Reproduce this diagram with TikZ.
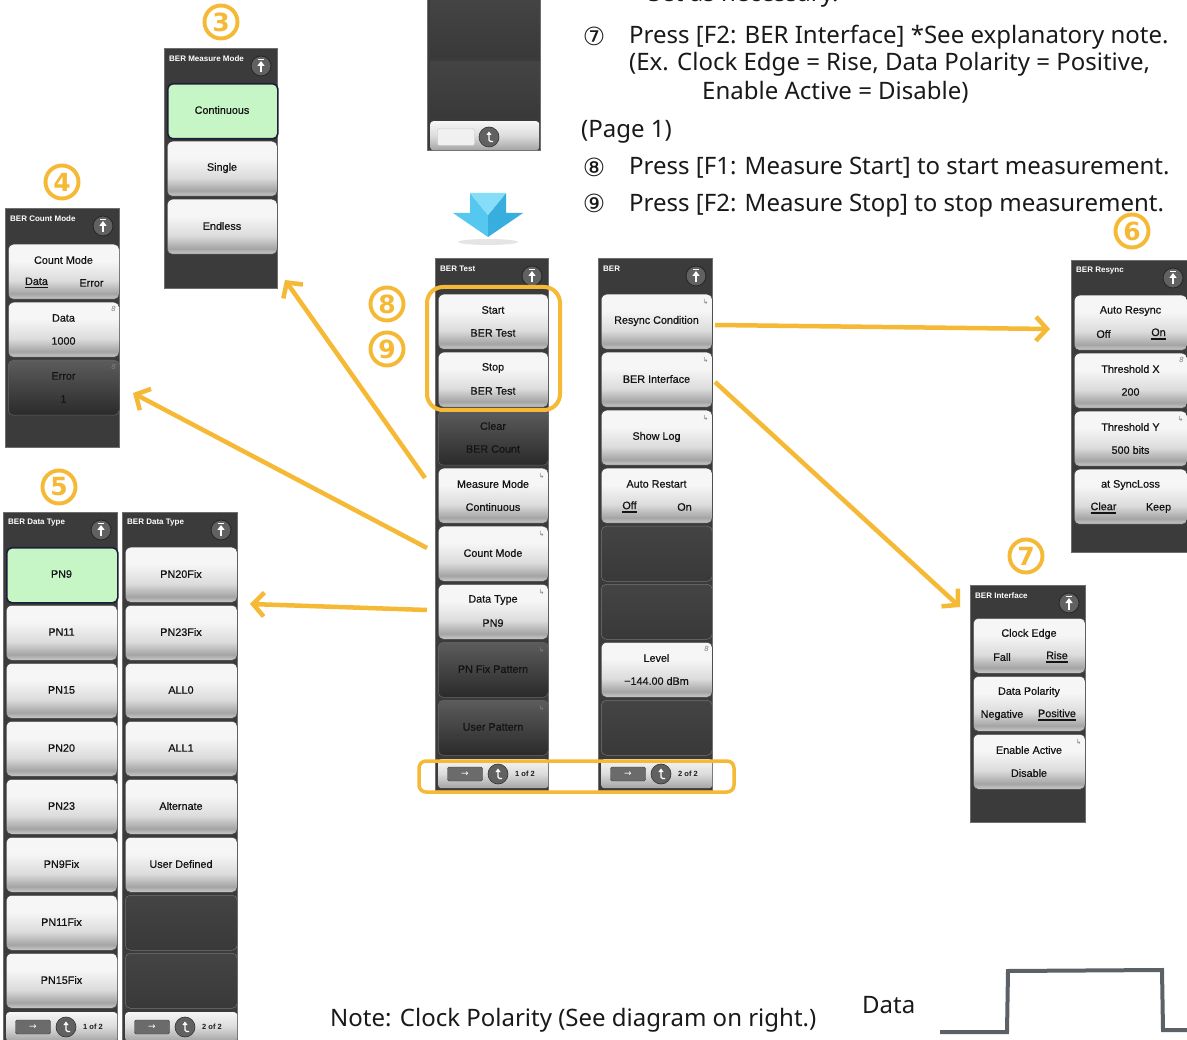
\documentclass[tikz,border=0pt]{standalone}
\usepackage{fontspec}
\setmainfont{Noto Sans}
\newfontfamily\uifont{Liberation Sans}[FakeBold=0.6]
\newfontfamily\uibold{Liberation Sans}
\newfontfamily\symf{DejaVu Sans}
\usetikzlibrary{arrows.meta,calc}
\definecolor{org}{HTML}{F5B935}
\definecolor{pbg}{HTML}{3B3B3B}
\definecolor{pedge}{HTML}{6E6E6E}
\definecolor{kt}{HTML}{F6F6F6}
\definecolor{km}{HTML}{DCDCDC}
\definecolor{kd}{HTML}{A4A4A4}
\definecolor{kb}{HTML}{CACACA}
\definecolor{dt}{HTML}{5C5C5C}
\definecolor{db}{HTML}{2A2A2A}
\definecolor{et}{HTML}{444444}
\definecolor{eb}{HTML}{393939}
\definecolor{grn}{HTML}{C6F6C6}
\definecolor{navy}{HTML}{1E1E3A}
\definecolor{blueA}{HTML}{56C8F0}
\definecolor{blueB}{HTML}{38AEDF}
\definecolor{blueC}{HTML}{86DDF8}
\definecolor{wavec}{HTML}{5B6166}
\pgfdeclareverticalshading{keysh}{100bp}{color(0bp)=(kb); color(25bp)=(kb); color(30bp)=(kd); color(42bp)=(km); color(60bp)=(kt); color(75bp)=(kt); color(100bp)=(kt)}
\pgfdeclareverticalshading{darksh}{100bp}{color(0bp)=(db); color(25bp)=(db); color(75bp)=(dt); color(100bp)=(dt)}
\pgfdeclareverticalshading{emptysh}{100bp}{color(0bp)=(eb); color(25bp)=(eb); color(75bp)=(et); color(100bp)=(et)}
\pgfdeclareverticalshading{barsh}{100bp}{color(0bp)=(kd); color(25bp)=(kd); color(50bp)=(km); color(75bp)=(kt); color(100bp)=(kt)}
\newcommand\ulx[1]{\leavevmode\setbox0\hbox{#1}\rlap{\raisebox{-3.5pt}{\rule{\wd0}{1.3pt}}}\box0}
\tikzset{
  pnl/.style={anchor=north west, fill=pbg, draw=pedge, line width=1, inner sep=0},
  ptitle/.style={anchor=west, inner sep=0, text=white, font=\uibold\bfseries\fontsize{8}{8}\selectfont},
  upb/.style={circle, minimum size=20, inner sep=0, fill=black!62, draw=black!85, line width=0.8},
  keybase/.style={draw=black!75, line width=0.5, rounded corners=5, minimum height=55, inner sep=0, anchor=north west},
  keyn/.style={keybase, shading=keysh},
  keyd/.style={keybase, shading=darksh, draw=black!60},
  keye/.style={keybase, shading=emptysh, draw=black!55},
  keyg/.style={keybase, fill=grn, draw=navy, line width=1.6},
  ktxt/.style={inner sep=0, text=black!92, font=\uifont\fontsize{10.8}{12}\selectfont},
  indi/.style={inner sep=0, text=black!50, font=\symf\fontsize{7}{7}\selectfont},
  barbox/.style={anchor=north west, shading=barsh, rounded corners=3, minimum height=29, inner sep=0},
  rbox/.style={rectangle, minimum width=35, minimum height=14, inner sep=0, fill=black!58, draw=black!75, rounded corners=1.5, text=white, font=\symf\fontsize{9}{9}\selectfont},
  cbtn/.style={circle, minimum size=20, inner sep=0, fill=black!62, draw=black!80, line width=0.6},
  btxt/.style={inner sep=0, text=black!90, font=\uibold\bfseries\fontsize{7.5}{8}\selectfont},
  onum/.style={circle, draw=org, line width=3.9, minimum size=33, inner sep=0, text=org, font=\symf\bfseries\fontsize{25}{25}\selectfont},
  mt/.style={inner sep=0, text=black!90, anchor=base west, font=\fontsize{24}{28}\selectfont},
  cn/.style={inner sep=0, text=black!90, font=\symf\fontsize{25}{25}\selectfont},
  oarr/.style={draw=org, line width=4.5, -{Straight Barb[length=11pt,width=24pt]}},
}
\newcommand\Pnl[6]{%
  \node[pnl, minimum width=#4, minimum height=#5] (#1) at (#2,#3) {};
  \node[ptitle] (#1t) at (#2+5,#3+11) {#6};
  \node[upb] (#1u) at (#2+#4-16,#3+18) {};
  \draw[white, line width=1.3, -{Triangle[length=5pt,width=7pt]}] (#2+#4-16,#3+24.5) -- (#2+#4-16,#3+13);
  \draw[white, line width=0.6] (#2+#4-19,#3+11.3) -- (#2+#4-13,#3+11.3);
}
\newcommand\KeyTwo[7]{%
  \node[#7, minimum width=#4] (#1) at (#2,#3) {};
  \node[ktxt] (#1a) at (#2+#4/2,#3+16) {#5};
  \node[ktxt] (#1b) at (#2+#4/2,#3+39) {#6};
}
\newcommand\KeyOne[6]{%
  \node[#6, minimum width=#4] (#1) at (#2,#3) {};
  \node[ktxt] (#1a) at (#2+#4/2,#3+27) {#5};
}
\newcommand\KeyTog[7]{%
  \node[keyn, minimum width=#4] (#1) at (#2,#3) {};
  \node[ktxt] (#1a) at (#2+#4/2,#3+16) {#5};
  \node[ktxt] (#1l) at (#2+#4/2-27,#3+39) {#6};
  \node[ktxt] (#1r) at (#2+#4/2+28,#3+39) {#7};
}
\newcommand\Sub[1]{\node[indi] (#1s) at ($(#1.north east)+(-7,8)$) {↳};}
\newcommand\Num[1]{\node[indi] (#1n) at ($(#1.north east)+(-6,7)$) {\itshape 8};}
\newcommand\Bar[5]{%
  \node[barbox, minimum width=#4] (#1) at (#2,#3) {};
  \node[rbox] (#1r) at (#2+27,#3+15) {→};
  \node[cbtn] (#1c) at (#2+60,#3+15) {};
  \draw[white, line width=1.1, rounded corners=1.5, -{Triangle[length=3.5pt,width=5pt]}] (#2+64,#3+19.5) -- (#2+60,#3+19.5) -- (#2+60,#3+9.5);
  \node[btxt, anchor=west] (#1t) at (#2+77,#3+15) {#5};
}
\begin{document}
\begin{tikzpicture}[x=1pt,y=-1pt]
\useasboundingbox (0,0) rectangle (1187,1040);
\clip (0,0) rectangle (1187,1040);
\fill[white] (0,0) rectangle (1187,1040);

% ---------- top partial panel ----------
\node[pnl, minimum width=113, minimum height=160] (top) at (427,-10) {};
\node[keye, minimum width=109, minimum height=58, rounded corners=0, draw=none] (tops1) at (430,-1) {};
\node[keye, minimum width=109, minimum height=56, rounded corners=0, draw=none] (tops2) at (430,61) {};
\node[barbox, minimum width=109] (topb) at (430,121) {};
\node[draw=black!22, fill=black!6, rounded corners=2, minimum width=37, minimum height=17, inner sep=0] (tope) at (456,137) {};
\node[cbtn] (topc) at (489,137) {};
\draw[white, line width=1.1, rounded corners=1.5, -{Triangle[length=3.5pt,width=5pt]}] (493,141.5) -- (489,141.5) -- (489,131.5);

% ---------- blue arrow ----------
\fill[black!10] (488,242) ellipse (30 and 3);
\fill[blueA] (470,193) -- (488,215) -- (488,237) -- (453,213) -- (470,213) -- cycle;
\fill[blueB] (506,193) -- (488,215) -- (488,237) -- (523,213) -- (506,213) -- cycle;
\fill[blueC] (470,193) -- (506,193) -- (488,215) -- cycle;

% ---------- panel 3: BER Measure Mode ----------
\Pnl{p3}{164}{48}{113}{240}{BER Measure Mode}
\KeyOne{p3a}{167}{83}{110}{Continuous}{keyg}
\KeyOne{p3b}{167}{141}{110}{Single}{keyn}
\KeyOne{p3c}{167}{199}{110}{Endless}{keyn}

% ---------- panel 4: BER Count Mode ----------
\Pnl{p4}{5}{208}{114}{239}{BER Count Mode}
\KeyTog{p4a}{8}{244}{111}{Count Mode}{\ulx{Data}}{Error}
\KeyTwo{p4b}{8}{302}{111}{Data}{1000}{keyn}\Num{p4b}
\KeyTwo{p4c}{8}{360}{111}{Error}{1}{keyd}\Num{p4c}

% ---------- panel 5: BER Data Type ----------
\Pnl{q1}{3}{512}{114}{540}{BER Data Type}
\KeyOne{q1a}{6}{547}{111}{PN9}{keyg}
\KeyOne{q1b}{6}{605}{111}{PN11}{keyn}
\KeyOne{q1c}{6}{663}{111}{PN15}{keyn}
\KeyOne{q1d}{6}{721}{111}{PN20}{keyn}
\KeyOne{q1e}{6}{779}{111}{PN23}{keyn}
\KeyOne{q1f}{6}{837}{111}{PN9Fix}{keyn}
\KeyOne{q1g}{6}{895}{111}{PN11Fix}{keyn}
\KeyOne{q1h}{6}{953}{111}{PN15Fix}{keyn}
\Bar{q1z}{6}{1012}{111}{1 of 2}

\Pnl{q2}{122}{512}{115}{540}{BER Data Type}
\KeyOne{q2a}{125}{547}{112}{PN20Fix}{keyn}
\KeyOne{q2b}{125}{605}{112}{PN23Fix}{keyn}
\KeyOne{q2c}{125}{663}{112}{ALL0}{keyn}
\KeyOne{q2d}{125}{721}{112}{ALL1}{keyn}
\KeyOne{q2e}{125}{779}{112}{Alternate}{keyn}
\KeyOne{q2f}{125}{837}{112}{User Defined}{keyn}
\KeyOne{q2g}{125}{895}{112}{}{keye}
\KeyOne{q2h}{125}{953}{112}{}{keye}
\Bar{q2z}{125}{1012}{112}{2 of 2}

% ---------- main panel: BER Test ----------
\Pnl{m}{435}{258}{113}{532}{BER Test}
\KeyTwo{m1}{438}{294}{110}{Start}{BER Test}{keyn}
\KeyTwo{m2}{438}{352}{110}{Stop}{BER Test}{keyn}
\KeyTwo{m3}{438}{410}{110}{Clear}{BER Count}{keyd}
\KeyTwo{m4}{438}{468}{110}{Measure Mode}{Continuous}{keyn}\Sub{m4}
\KeyOne{m5}{438}{526}{110}{Count Mode}{keyn}\Sub{m5}
\KeyTwo{m6}{438}{584}{110}{Data Type}{PN9}{keyn}\Sub{m6}
\KeyOne{m7}{438}{642}{110}{PN Fix Pattern}{keyd}\Sub{m7}
\KeyOne{m8}{438}{700}{110}{User Pattern}{keyd}\Sub{m8}
\Bar{mz}{438}{759}{110}{1 of 2}

% ---------- BER panel ----------
\Pnl{b}{598}{258}{114}{532}{BER}
\KeyOne{b1}{601}{294}{111}{Resync Condition}{keyn}\Sub{b1}
\KeyOne{b2}{601}{352}{111}{BER Interface}{keyn}\Sub{b2}
\KeyOne{b3}{601}{410}{111}{Show Log}{keyn}\Sub{b3}
\KeyTog{b4}{601}{468}{111}{Auto Restart}{\ulx{Off}}{On}
\KeyOne{b5}{601}{526}{111}{}{keye}
\KeyOne{b6}{601}{584}{111}{}{keye}
\KeyTwo{b7}{601}{642}{111}{Level}{−144.00 dBm}{keyn}\Num{b7}
\KeyOne{b8}{601}{700}{111}{}{keye}
\Bar{bz}{601}{759}{111}{2 of 2}

% ---------- BER Resync ----------
\Pnl{r}{1071}{260}{118}{292}{BER Resync}
\KeyTog{r1}{1074}{295}{113}{Auto Resync}{Off}{\ulx{On}}
\KeyTwo{r2}{1074}{353}{113}{Threshold X}{200}{keyn}\Num{r2}
\KeyTwo{r3}{1074}{411}{113}{Threshold Y}{500 bits}{keyn}\Sub{r3}
\KeyTog{r4}{1074}{469}{113}{at SyncLoss}{\ulx{Clear}}{Keep}

% ---------- BER Interface ----------
\Pnl{i}{970}{585}{115}{237}{BER Interface}
\KeyTog{i1}{973}{618}{112}{Clock Edge}{Fall}{\ulx{Rise}}
\KeyTog{i2}{973}{676}{112}{Data Polarity}{Negative}{\ulx{Positive}}
\KeyTwo{i3}{973}{734}{112}{Enable Active}{Disable}{keyn}\Sub{i3}

% ---------- orange highlights ----------
\draw[org, line width=4, rounded corners=16] (427,287) rectangle (560,410);
\draw[org, line width=3.5, rounded corners=7] (419,761) rectangle (734,792);

% ---------- orange arrows ----------
\coordinate (a1s) at (425,478); \coordinate (a1e) at (285,280);
\coordinate (a2s) at (427,548); \coordinate (a2e) at (133,393);
\coordinate (a3s) at (427,610); \coordinate (a3e) at (250,604);
\coordinate (a4s) at (715,325); \coordinate (a4e) at (1050,329);
\coordinate (a5s) at (715,382); \coordinate (a5e) at (960,607);
\draw[oarr] (a1s) -- (a1e);
\draw[oarr] (a2s) -- (a2e);
\draw[oarr] (a3s) -- (a3e);
\draw[oarr] (a4s) -- (a4e);
\draw[oarr] (a5s) -- (a5e);

% ---------- orange step numbers ----------
\node[onum] (n3) at (221,22) {3};
\node[onum] (n4) at (62,182) {4};
\node[onum] (n5) at (59,487) {5};
\node[onum] (n6) at (1132,231) {6};
\node[onum] (n7) at (1026,556) {7};
\node[onum] (n8) at (387,304) {8};
\node[onum] (n9) at (387,349) {9};

% ---------- text ----------
\node[mt] (t0) at (648,2) {Set as necessary.};
\node[cn] (t1n) at (594,36) {⑦};
\node[mt] (t1) at (629,44) {Press [F2: BER Interface] *See explanatory note.};
\node[mt] (t2) at (629,71) {(Ex. Clock Edge = Rise, Data Polarity = Positive,};
\node[mt] (t3) at (702,100) {Enable Active = Disable)};
\node[mt] (t4) at (581,138) {(Page 1)};
\node[cn] (t5n) at (594,167) {⑧};
\node[mt] (t5) at (629,175) {Press [F1: Measure Start] to start measurement.};
\node[cn] (t6n) at (594,203) {⑨};
\node[mt] (t6) at (629,212) {Press [F2: Measure Stop] to stop measurement.};
\node[mt] (t7) at (330,1026) {Note: Clock Polarity (See diagram on right.)};
\node[mt] (t8) at (862,1013) {Data};

% ---------- data waveform ----------
\draw[wavec, line width=4] (940,1032) -- (1007,1032) -- (1008,971) -- (1162,970) -- (1163,1030) -- (1190,1030);
\end{tikzpicture}
\end{document}
